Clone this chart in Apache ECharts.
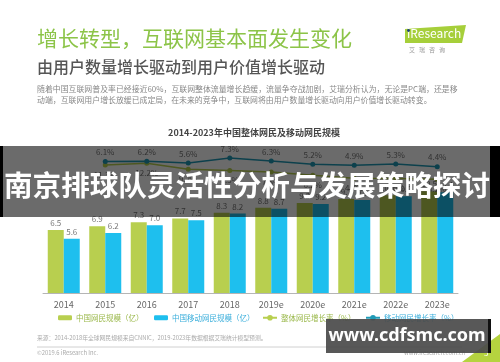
<!DOCTYPE html>
<html>
<head>
<meta charset="utf-8">
<script src="https://cdn.jsdelivr.net/npm/echarts@6/dist/echarts.min.js"></script>
<style>
html,body{margin:0;padding:0;background:#fff;}
#c{width:500px;height:362px;}
</style>
</head>
<body>
<div id="c"></div>
<script>
var categories = ['2014','2015','2016','2017','2018','2019e','2020e','2021e','2022e','2023e'];
var netUsers = [6.5, 6.9, 7.3, 7.7, 8.3, 8.8, 9.3, 9.7, 10.1, 10.5];
var mobileUsers = [5.6, 6.2, 7.0, 7.5, 8.2, 8.7, 9.2, 9.6, 10.0, 10.4];
var upperRate = ['-', 6.1, 6.2, 5.6, 7.3, 6.3, 5.2, 4.9, 5.3, 4.4];
var lowerRate = ['-', 11.3, 12.2, 9.2, 8.5, 7.8, 6.2, 4.7, 4.5, 4.2];

var F = '"Noto Sans CJK SC","Noto Sans",sans-serif';
var GREEN = '#b8cf4f';
var BLUE = '#1ebfee';
var TEAL = '#1f9ab6';

var chart = echarts.init(document.getElementById('c'));
function leg(name, left, textColor){
  return {
    data:[name], left:left, top:314, padding:0,
    itemWidth:14, itemHeight:(name.indexOf('规模')>=0?5:7), itemGap:4,
    textStyle:{fontFamily:F, fontSize:7.5, color:textColor, padding:[0,0,0,-1]}
  };
}
function fmt1(p){ return Number(p.value).toFixed(1); }
function fmtPct(p){ return Number(p.value).toFixed(1) + '%'; }
chart.setOption({
  animation:false,
  textStyle:{fontFamily:F},
  grid:{left:43, right:42, top:140, bottom:69},
  legend:[
    leg('中国网民规模（亿）', 58, '#9ab84a'),
    leg('中国移动网民规模（亿）', 154, '#3aaedb'),
    leg('整体网民增长率（%）', 262, '#9ab84a'),
    leg('移动网民增长率（%）', 365, '#3aaedb')
  ],
  xAxis:{
    type:'category', data:categories,
    axisLine:{lineStyle:{color:'#b5b5b5', width:1}},
    axisTick:{show:false},
    axisLabel:{color:'#666', fontSize:9, margin:7, fontFamily:F}
  },
  yAxis:[
    {type:'value', min:0, max:15.8, show:false},
    {type:'value', min:-37.7, max:13.3, show:false},
    {type:'value', min:-52.7, max:23.8, show:false}
  ],
  series:[
    {name:'中国网民规模（亿）', type:'bar', data:netUsers, barWidth:16, barGap:'0%',
     itemStyle:{color:GREEN},
     label:{show:true, position:'top', distance:3, fontSize:8, color:'#777', fontFamily:F, formatter:fmt1}},
    {name:'中国移动网民规模（亿）', type:'bar', data:mobileUsers, barWidth:16,
     itemStyle:{color:BLUE},
     label:{show:true, position:'top', distance:3, fontSize:8, color:'#777', fontFamily:F, formatter:fmt1}},
    {name:'整体网民增长率（%）', type:'line', yAxisIndex:2, data:lowerRate,
     symbol:'circle', symbolSize:5, lineStyle:{width:1.5, color:GREEN}, itemStyle:{color:GREEN},
     label:{show:true, position:'bottom', distance:3, fontSize:8, color:'#777', fontFamily:F, formatter:fmtPct}},
    {name:'移动网民增长率（%）', type:'line', yAxisIndex:1, data:upperRate,
     symbol:'circle', symbolSize:5, lineStyle:{width:1.5, color:TEAL}, itemStyle:{color:TEAL},
     label:{show:true, position:'top', distance:3, fontSize:8, color:'#777', fontFamily:F, formatter:fmtPct}}
  ],
  graphic:[
    {type:'text', left:37, top:28, z:50, style:{text:'增长转型，互联网基本面发生变化', font:'21px '+F, fill:'#8cc448'}},
    {type:'text', left:37, top:59, z:50, style:{text:'由用户数量增长驱动到用户价值增长驱动', font:'500 16px '+F, fill:'#555'}},
    {type:'text', left:37, top:85, z:50, style:{text:'随着中国互联网普及率已经接近60%，互联网整体流量增长趋缓，流量争夺战加剧，艾瑞分析认为，无论是PC端，还是移', font:'7.9px '+F, fill:'#888'}},
    {type:'text', left:37, top:96, z:50, style:{text:'动端，互联网用户增长放缓已成定局，在未来的竞争中，互联网将由用户数量增长驱动向用户价值增长驱动转变。', font:'7.9px '+F, fill:'#888'}},
    {type:'polygon', z:50, shape:{points:[[405,29],[466,25],[462,43],[405,43]]}, style:{fill:'#a6cf3a'}},
    {type:'text', left:407, top:27, z:51, style:{text:'iResearch', font:'12px '+F, fill:'#fff'}},
    {type:'circle', z:52, shape:{cx:408.5, cy:30.5, r:1.4}, style:{fill:'#1c3f7a'}},
    {type:'text', left:409, top:47, z:50, style:{text:'艾   瑞   咨   询', font:'6px '+F, fill:'#999'}},
    {type:'text', x:254, y:133, z:50, style:{text:'2014-2023年中国整体网民及移动网民规模', font:'bold 9px '+F, fill:'#444', textAlign:'center', textVerticalAlign:'middle'}},
    {type:'text', left:37, top:335, z:50, style:{text:'来源：2014-2018年全球网民规模来自CNNIC，2019-2023年数据根据艾瑞统计模型预测。', font:'5.8px '+F, fill:'#aaa'}},
    {type:'line', z:50, shape:{x1:37, y1:347, x2:462, y2:347}, style:{stroke:'#d0d0d0', lineWidth:1}},
    {type:'text', left:37, top:350, z:50, style:{text:'©2019.6 iResearch Inc.', font:'5.8px '+F, fill:'#aaa'}},
    {type:'text', left:404, top:350, z:50, style:{text:'www.iresearch.com.cn', font:'5.8px '+F, fill:'#aaa'}},
    {type:'polygon', z:50, shape:{points:[[462,362],[500,362],[500,334]]}, style:{fill:'#b5d33f'}},
    {type:'text', left:484, top:349, z:51, style:{text:'5', font:'8px '+F, fill:'#fff'}},
    {type:'rect', z:100, shape:{x:0, y:146, width:500, height:71}, style:{fill:'rgba(0,0,0,0.58)'}},
    {type:'rect', z:101, shape:{x:0, y:146, width:3, height:71}, style:{fill:'#000'}},
    {type:'rect', z:101, shape:{x:490, y:146, width:10, height:71}, style:{fill:'#000'}},
    {type:'text', x:247, y:185, z:102, style:{text:'南京排球队灵活性分析与发展策略探讨', font:'bold 28.6px '+F, fill:'#fff', textAlign:'center', textVerticalAlign:'middle'}},
    {type:'rect', z:100, shape:{x:326, y:319, width:164, height:34}, style:{fill:'rgba(75,75,75,0.93)'}},
    {type:'rect', z:101, shape:{x:488, y:319, width:3, height:34}, style:{fill:'#111'}},
    {type:'text', x:407, y:336, z:102, style:{text:'www.cdfsmc.com', font:'bold 18px "Noto Sans",sans-serif', fill:'#fff', textAlign:'center', textVerticalAlign:'middle'}}
  ]
});
</script>
</body>
</html>
